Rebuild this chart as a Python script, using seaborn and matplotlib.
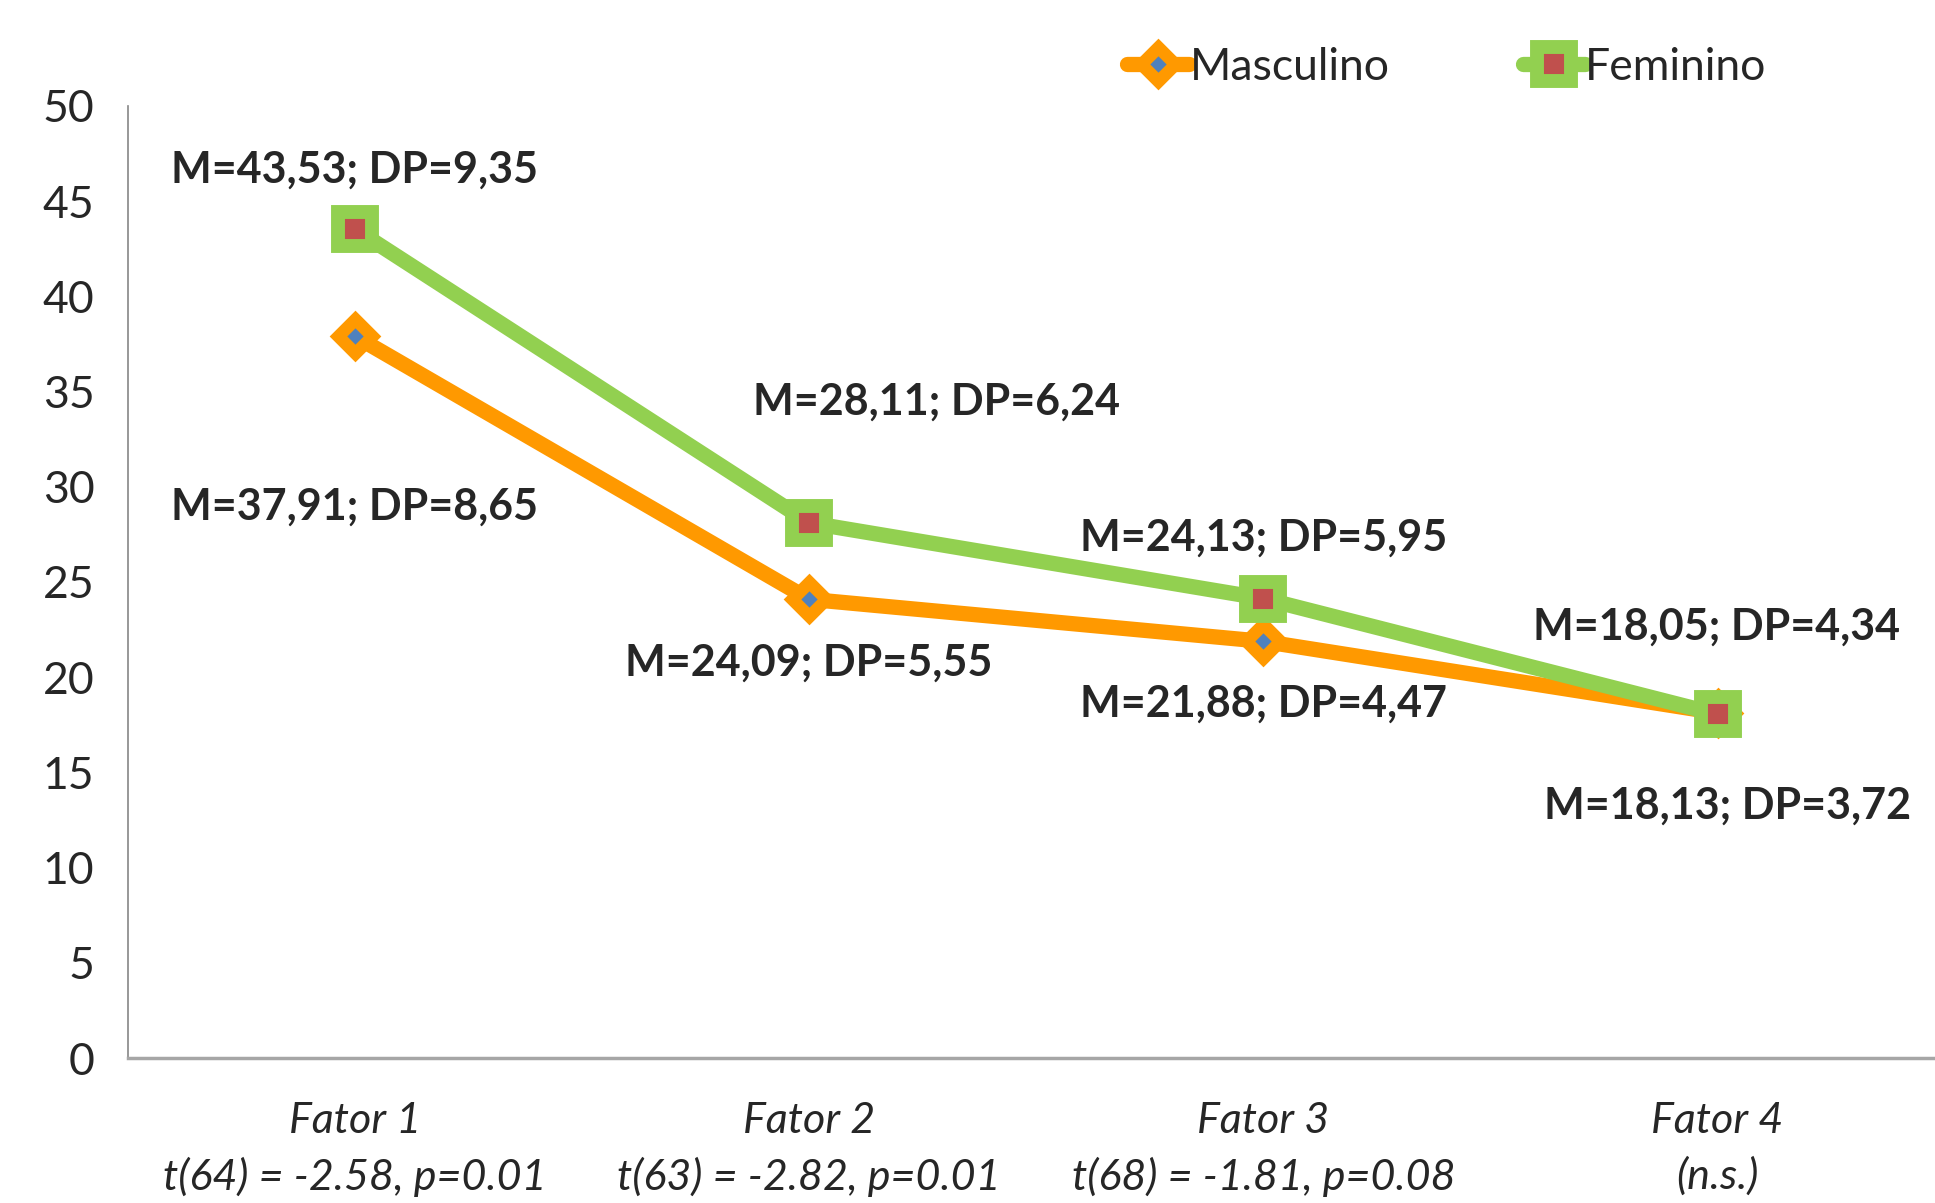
import matplotlib
matplotlib.use("Agg")
import matplotlib.pyplot as plt
import pandas as pd
import seaborn as sns

fatores = ["Fator 1", "Fator 2", "Fator 3", "Fator 4"]
testes = ["t(64) = -2.58, p=0.01", "t(63) = -2.82, p=0.01",
          "t(68) = -1.81, p=0.08", "(n.s.)"]
masculino = [37.91, 24.09, 21.88, 18.13]
feminino = [43.53, 28.11, 24.13, 18.05]
rotulos_masc = ["M=37,91; DP=8,65", "M=24,09; DP=5,55",
                "M=21,88; DP=4,47", "M=18,13; DP=3,72"]
rotulos_fem = ["M=43,53; DP=9,35", "M=28,11; DP=6,24",
               "M=24,13; DP=5,95", "M=18,05; DP=4,34"]

sns.set_style("white")
plt.rcParams["font.family"] = ["Lato", "DejaVu Sans"]

df = pd.DataFrame({"fator": fatores * 2,
                   "valor": masculino + feminino,
                   "sexo": ["Masculino"] * 4 + ["Feminino"] * 4})

fig = plt.figure(figsize=(19.35, 12.03), dpi=100)
ax = fig.add_axes([0.066, 0.1205, 0.939, 0.7915])

orange = "#FF9900"
green = "#92D050"
sns.lineplot(data=df[df.sexo == "Masculino"], x="fator", y="valor", color=orange,
             lw=11, marker="D", markersize=17, markerfacecolor="#4F81BD",
             markeredgecolor=orange, markeredgewidth=9, errorbar=None,
             label="Masculino", legend=False, ax=ax, zorder=3)
sns.lineplot(data=df[df.sexo == "Feminino"], x="fator", y="valor", color=green,
             lw=11, marker="s", markersize=24, markerfacecolor="#C0504D",
             markeredgecolor=green, markeredgewidth=10, errorbar=None,
             label="Feminino", legend=False, ax=ax, zorder=4)

# rótulos de dados (deslocamentos em pontos)
off_fem = [(0, 43), (92, 87), (0, 44), (-1, 63)]
off_masc = [(0, -123), (0, -46), (0, -45), (7, -67)]
for i in range(4):
    ax.annotate(rotulos_fem[i], (i, feminino[i]), xytext=off_fem[i],
                textcoords="offset points", ha="center", va="center",
                fontsize=31, fontweight="bold", zorder=6)
    ax.annotate(rotulos_masc[i], (i, masculino[i]), xytext=off_masc[i],
                textcoords="offset points", ha="center", va="center",
                fontsize=31, fontweight="bold", zorder=6)

ax.set_xlim(-0.5, 3.5)
ax.set_ylim(0, 50)
ax.set_yticks(range(0, 51, 5))
ax.set_xticks(range(4))
ax.set_xticklabels([f"{f}\n{t}" for f, t in zip(fatores, testes)],
                   fontstyle="italic", fontsize=31, linespacing=1.5)
ax.set_xticks([-0.5, 0.5, 1.5, 2.5], minor=True)
ax.tick_params(axis="x", which="major", length=0, pad=32)
ax.tick_params(axis="x", which="minor", length=12, width=1.2, color="#868686",
               direction="out")
ax.tick_params(axis="y", length=12, width=1.2, color="#868686",
               direction="out", labelsize=32, pad=12)
ax.set_xlabel("")
ax.set_ylabel("")

sns.despine(ax=ax, top=True, right=True)
ax.spines["left"].set_color("#868686")
ax.spines["left"].set_linewidth(1.2)
ax.spines["bottom"].set_color("#A6A6A6")
ax.spines["bottom"].set_linewidth(2.5)

fig.legend(handles=ax.lines[:2], labels=["Masculino", "Feminino"],
           loc="center left", bbox_to_anchor=(1105 / 1935, 1 - 67 / 1203),
           ncol=2, frameon=False, fontsize=32, handlelength=1.4,
           handletextpad=0.0, columnspacing=3.0, borderpad=0)

fig.savefig("out.png", dpi=100)
